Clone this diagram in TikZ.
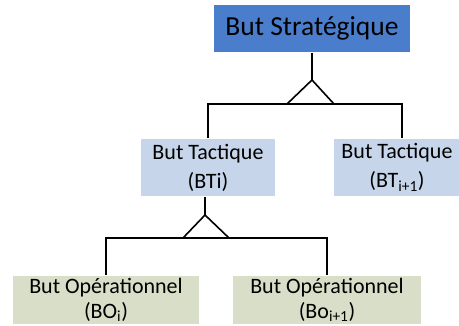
\documentclass[tikz,border=0pt]{standalone}
\usepackage{fontspec}
\setmainfont{Carlito}
\usetikzlibrary{calc}
\definecolor{stratblue}{HTML}{4A7DCB}
\definecolor{tactblue}{HTML}{C6D5EA}
\definecolor{opgreen}{HTML}{D8DEC8}
\begin{document}
\begin{tikzpicture}[x=1pt, y=-1pt, line width=1.6pt,
  butbox/.style={inner sep=0pt, align=center, draw=none},
  strat/.style={butbox, fill=stratblue, minimum width=196pt, minimum height=47pt,
    font=\fontsize{27.5}{32}\selectfont},
  tact/.style={butbox, fill=tactblue, minimum height=57pt,
    font=\fontsize{22}{29}\selectfont},
  oper/.style={butbox, fill=opgreen, minimum height=48pt,
    font=\fontsize{22}{25}\selectfont}]
  \useasboundingbox (0,0) rectangle (459,326);
  \node[strat] (BS) at (312,28.5) {But Stratégique};
  \node[tact, minimum width=134pt] (BTi) at (208,167.5) {But Tactique\\(BTi)};
  \node[tact, minimum width=126pt] (BTn) at (397,167.5) {But Tactique\\(BT\textsubscript{i+1})};
  \node[oper, minimum width=186pt] (BOi) at (106,300) {But Opérationnel\\(BO\textsubscript{i})};
  \node[oper, minimum width=188pt] (BOn) at (327,300) {But Opérationnel\\(Bo\textsubscript{i+1})};
  % premier niveau
  \coordinate (T1) at (312,80);
  \coordinate (L1) at (208,104);
  \coordinate (R1) at (402,104);
  \draw (BS.south -| T1) -- (T1);
  \draw (T1) -- (287,104) -- (334,104) -- cycle;
  \draw (BTi.north -| L1) -- (L1) -- (R1) -- (BTn.north -| R1);
  % second niveau
  \coordinate (T2) at (205,215);
  \coordinate (L2) at (106,238);
  \coordinate (R2) at (327,238);
  \draw (BTi.south -| T2) -- (T2);
  \draw (T2) -- (183,238) -- (229,238) -- cycle;
  \draw (BOi.north -| L2) -- (L2) -- (R2) -- (BOn.north -| R2);
\end{tikzpicture}
\end{document}
